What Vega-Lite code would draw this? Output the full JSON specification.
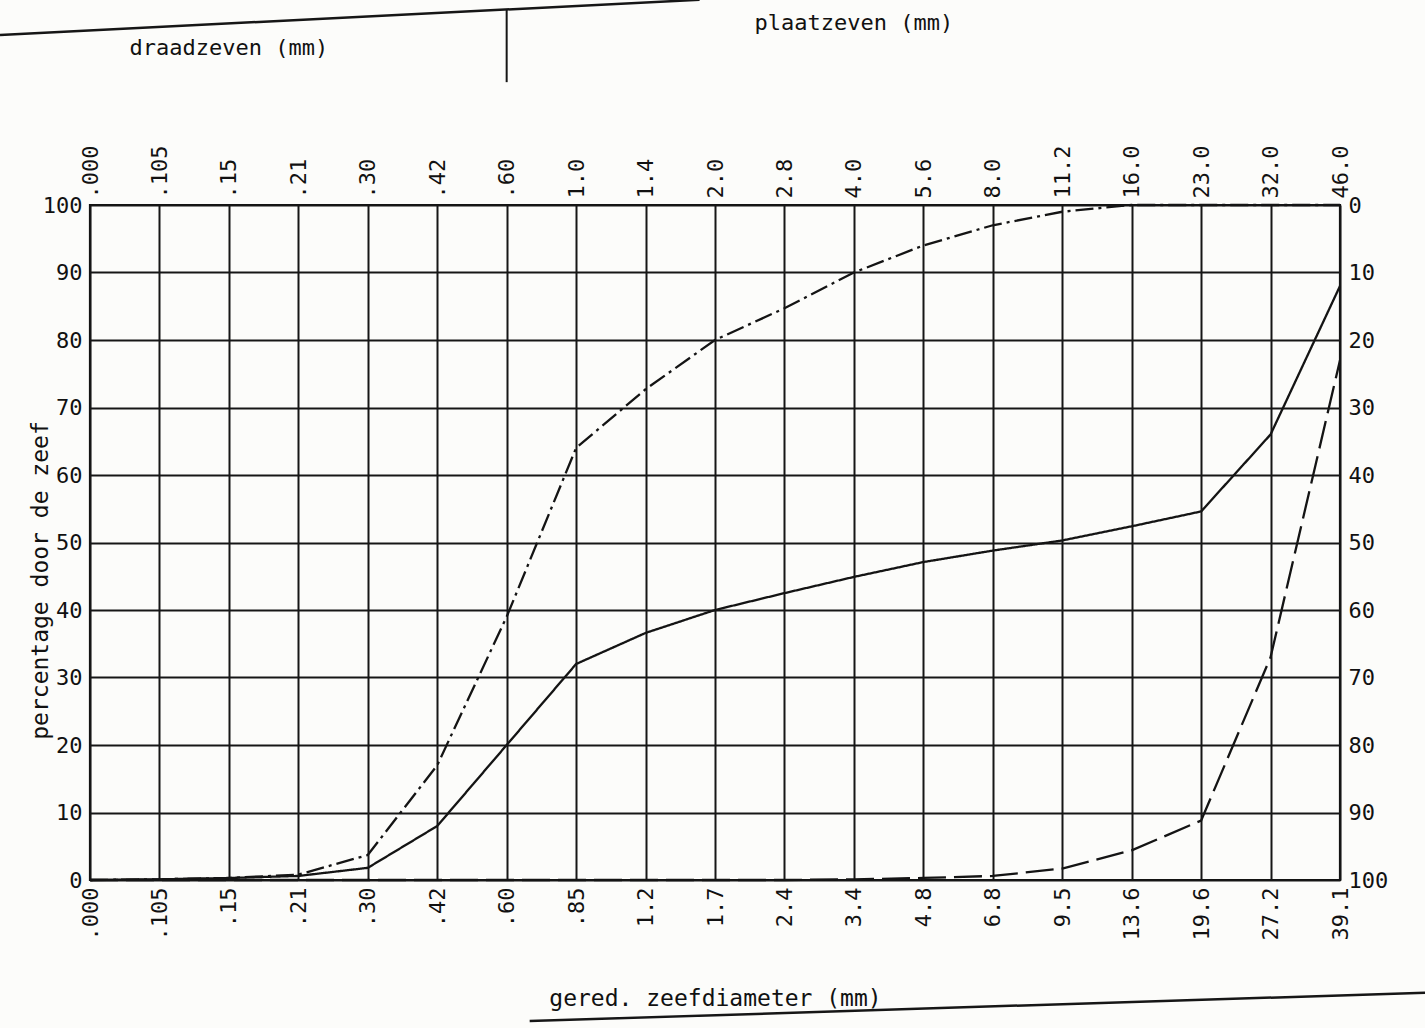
{
  "$schema": "https://vega.github.io/schema/vega-lite/v6.json",
  "width": 1250,
  "height": 675,
  "autosize": {"type": "none"},
  "padding": {"left": 90, "top": 205, "right": 85, "bottom": 148},
  "background": "#fcfcfa",
  "datasets": {
    "zeefkrommen": [
      {"kromme": "fijn", "zeef": ".000", "pct": 0},
      {"kromme": "fijn", "zeef": ".105", "pct": 0.1},
      {"kromme": "fijn", "zeef": ".15", "pct": 0.3},
      {"kromme": "fijn", "zeef": ".21", "pct": 0.8},
      {"kromme": "fijn", "zeef": ".30", "pct": 3.7},
      {"kromme": "fijn", "zeef": ".42", "pct": 17},
      {"kromme": "fijn", "zeef": ".60", "pct": 39},
      {"kromme": "fijn", "zeef": ".85", "pct": 64},
      {"kromme": "fijn", "zeef": "1.2", "pct": 72.7},
      {"kromme": "fijn", "zeef": "1.7", "pct": 80},
      {"kromme": "fijn", "zeef": "2.4", "pct": 84.7},
      {"kromme": "fijn", "zeef": "3.4", "pct": 90},
      {"kromme": "fijn", "zeef": "4.8", "pct": 94},
      {"kromme": "fijn", "zeef": "6.8", "pct": 97},
      {"kromme": "fijn", "zeef": "9.5", "pct": 99},
      {"kromme": "fijn", "zeef": "13.6", "pct": 100},
      {"kromme": "fijn", "zeef": "19.6", "pct": 100},
      {"kromme": "fijn", "zeef": "27.2", "pct": 100},
      {"kromme": "fijn", "zeef": "39.1", "pct": 100},
      {"kromme": "midden", "zeef": ".000", "pct": 0},
      {"kromme": "midden", "zeef": ".105", "pct": 0.1},
      {"kromme": "midden", "zeef": ".15", "pct": 0.3},
      {"kromme": "midden", "zeef": ".21", "pct": 0.6},
      {"kromme": "midden", "zeef": ".30", "pct": 1.8},
      {"kromme": "midden", "zeef": ".42", "pct": 8},
      {"kromme": "midden", "zeef": ".60", "pct": 20},
      {"kromme": "midden", "zeef": ".85", "pct": 32},
      {"kromme": "midden", "zeef": "1.2", "pct": 36.6},
      {"kromme": "midden", "zeef": "1.7", "pct": 40},
      {"kromme": "midden", "zeef": "2.4", "pct": 42.5},
      {"kromme": "midden", "zeef": "3.4", "pct": 44.9},
      {"kromme": "midden", "zeef": "4.8", "pct": 47.1},
      {"kromme": "midden", "zeef": "6.8", "pct": 48.8},
      {"kromme": "midden", "zeef": "9.5", "pct": 50.3},
      {"kromme": "midden", "zeef": "13.6", "pct": 52.4},
      {"kromme": "midden", "zeef": "19.6", "pct": 54.6},
      {"kromme": "midden", "zeef": "27.2", "pct": 66},
      {"kromme": "midden", "zeef": "39.1", "pct": 88},
      {"kromme": "grof", "zeef": ".000", "pct": 0},
      {"kromme": "grof", "zeef": ".105", "pct": 0},
      {"kromme": "grof", "zeef": ".15", "pct": 0},
      {"kromme": "grof", "zeef": ".21", "pct": 0},
      {"kromme": "grof", "zeef": ".30", "pct": 0},
      {"kromme": "grof", "zeef": ".42", "pct": 0},
      {"kromme": "grof", "zeef": ".60", "pct": 0},
      {"kromme": "grof", "zeef": ".85", "pct": 0},
      {"kromme": "grof", "zeef": "1.2", "pct": 0},
      {"kromme": "grof", "zeef": "1.7", "pct": 0},
      {"kromme": "grof", "zeef": "2.4", "pct": 0},
      {"kromme": "grof", "zeef": "3.4", "pct": 0.1},
      {"kromme": "grof", "zeef": "4.8", "pct": 0.3},
      {"kromme": "grof", "zeef": "6.8", "pct": 0.6},
      {"kromme": "grof", "zeef": "9.5", "pct": 1.7},
      {"kromme": "grof", "zeef": "13.6", "pct": 4.4},
      {"kromme": "grof", "zeef": "19.6", "pct": 8.8},
      {"kromme": "grof", "zeef": "27.2", "pct": 33},
      {"kromme": "grof", "zeef": "39.1", "pct": 77}
    ]
  },
  "resolve": {"axis": {"x": "independent", "y": "independent"}},
  "layer": [
    {
      "data": {"name": "zeefkrommen"},
      "mark": {"type": "line", "color": "#141414", "strokeWidth": 2.3},
      "encoding": {
        "x": {
          "field": "zeef",
          "type": "ordinal",
          "scale": {
            "type": "point",
            "padding": 0,
            "domain": [".000", ".105", ".15", ".21", ".30", ".42", ".60", ".85", "1.2", "1.7", "2.4", "3.4", "4.8", "6.8", "9.5", "13.6", "19.6", "27.2", "39.1"]
          },
          "axis": {
            "orient": "bottom",
            "grid": true,
            "gridColor": "#161616",
            "gridWidth": 2,
            "gridOpacity": 1,
            "labelAngle": -90,
            "labelPadding": 7,
            "title": "gered. zeefdiameter (mm)",
            "titlePadding": 48
          }
        },
        "y": {
          "field": "pct",
          "type": "quantitative",
          "scale": {"domain": [0, 100], "nice": false, "zero": false},
          "axis": {
            "orient": "left",
            "values": [0, 10, 20, 30, 40, 50, 60, 70, 80, 90, 100],
            "grid": true,
            "gridColor": "#161616",
            "gridWidth": 2,
            "gridOpacity": 1,
            "labelPadding": 8,
            "title": "percentage door de zeef",
            "titlePadding": -10,
            "titleY": 375
          }
        },
        "strokeDash": {
          "field": "kromme",
          "type": "nominal",
          "scale": {"domain": ["midden", "fijn", "grof"], "range": [[1, 0], [18, 5, 3, 5], [28, 8]]},
          "legend": null
        },
        "order": {"value": null}
      }
    },
    {
      "data": {"name": "zeefkrommen"},
      "mark": {"type": "point", "opacity": 0},
      "encoding": {
        "x": {
          "field": "zeef",
          "type": "ordinal",
          "axis": {
            "orient": "top",
            "grid": false,
            "labelAngle": -90,
            "labelPadding": 7,
            "title": null,
            "labelExpr": "['.000','.105','.15','.21','.30','.42','.60','1.0','1.4','2.0','2.8','4.0','5.6','8.0','11.2','16.0','23.0','32.0','46.0'][indexof(['.000','.105','.15','.21','.30','.42','.60','.85','1.2','1.7','2.4','3.4','4.8','6.8','9.5','13.6','19.6','27.2','39.1'], datum.value)]"
          }
        },
        "y": {
          "field": "pct",
          "type": "quantitative",
          "axis": {
            "orient": "right",
            "values": [0, 10, 20, 30, 40, 50, 60, 70, 80, 90, 100],
            "grid": false,
            "labelPadding": 8,
            "title": null,
            "labelExpr": "100 - datum.value"
          }
        }
      }
    },
    {
      "data": {"values": [{}]},
      "mark": {"type": "text", "text": "draadzeven (mm)", "fontSize": 22, "font": "DejaVu Sans Mono", "color": "#111"},
      "encoding": {
        "x": {"datum": ".15", "type": "ordinal", "axis": null},
        "y": {"datum": 123.3, "type": "quantitative", "axis": null}
      }
    },
    {
      "data": {"values": [{}]},
      "mark": {"type": "text", "text": "plaatzeven (mm)", "fontSize": 22, "font": "DejaVu Sans Mono", "color": "#111"},
      "encoding": {
        "x": {"datum": "3.4", "type": "ordinal", "axis": null},
        "y": {"datum": 127, "type": "quantitative", "axis": null}
      }
    },
    {
      "data": {"values": [{}]},
      "mark": {"type": "rule", "color": "#161616", "strokeWidth": 2},
      "encoding": {
        "x": {"datum": ".60", "type": "ordinal", "axis": null},
        "y": {"datum": 118.2, "type": "quantitative", "axis": null},
        "y2": {"datum": 128.9}
      }
    },
    {
      "data": {"values": [{}]},
      "mark": {"type": "rule", "color": "#161616", "strokeWidth": 2.5, "xOffset": -90, "x2Offset": 54},
      "encoding": {
        "x": {"datum": ".000", "type": "ordinal", "axis": null},
        "x2": {"datum": "1.2"},
        "y": {"datum": 125.2, "type": "quantitative", "axis": null},
        "y2": {"datum": 130.4}
      }
    },
    {
      "data": {"values": [{}]},
      "mark": {"type": "rule", "color": "#161616", "strokeWidth": 2.5, "xOffset": 23, "x2Offset": 85},
      "encoding": {
        "x": {"datum": ".60", "type": "ordinal", "axis": null},
        "x2": {"datum": "39.1"},
        "y": {"datum": -20.9, "type": "quantitative", "axis": null},
        "y2": {"datum": -16.7}
      }
    }
  ],
  "config": {
    "view": {"stroke": "#111", "strokeWidth": 2.2},
    "axis": {
      "labelFont": "DejaVu Sans Mono",
      "titleFont": "DejaVu Sans Mono",
      "labelFontSize": 22,
      "titleFontSize": 23,
      "titleFontWeight": "normal",
      "labelColor": "#111",
      "titleColor": "#111",
      "ticks": false,
      "domain": false
    }
  }
}
